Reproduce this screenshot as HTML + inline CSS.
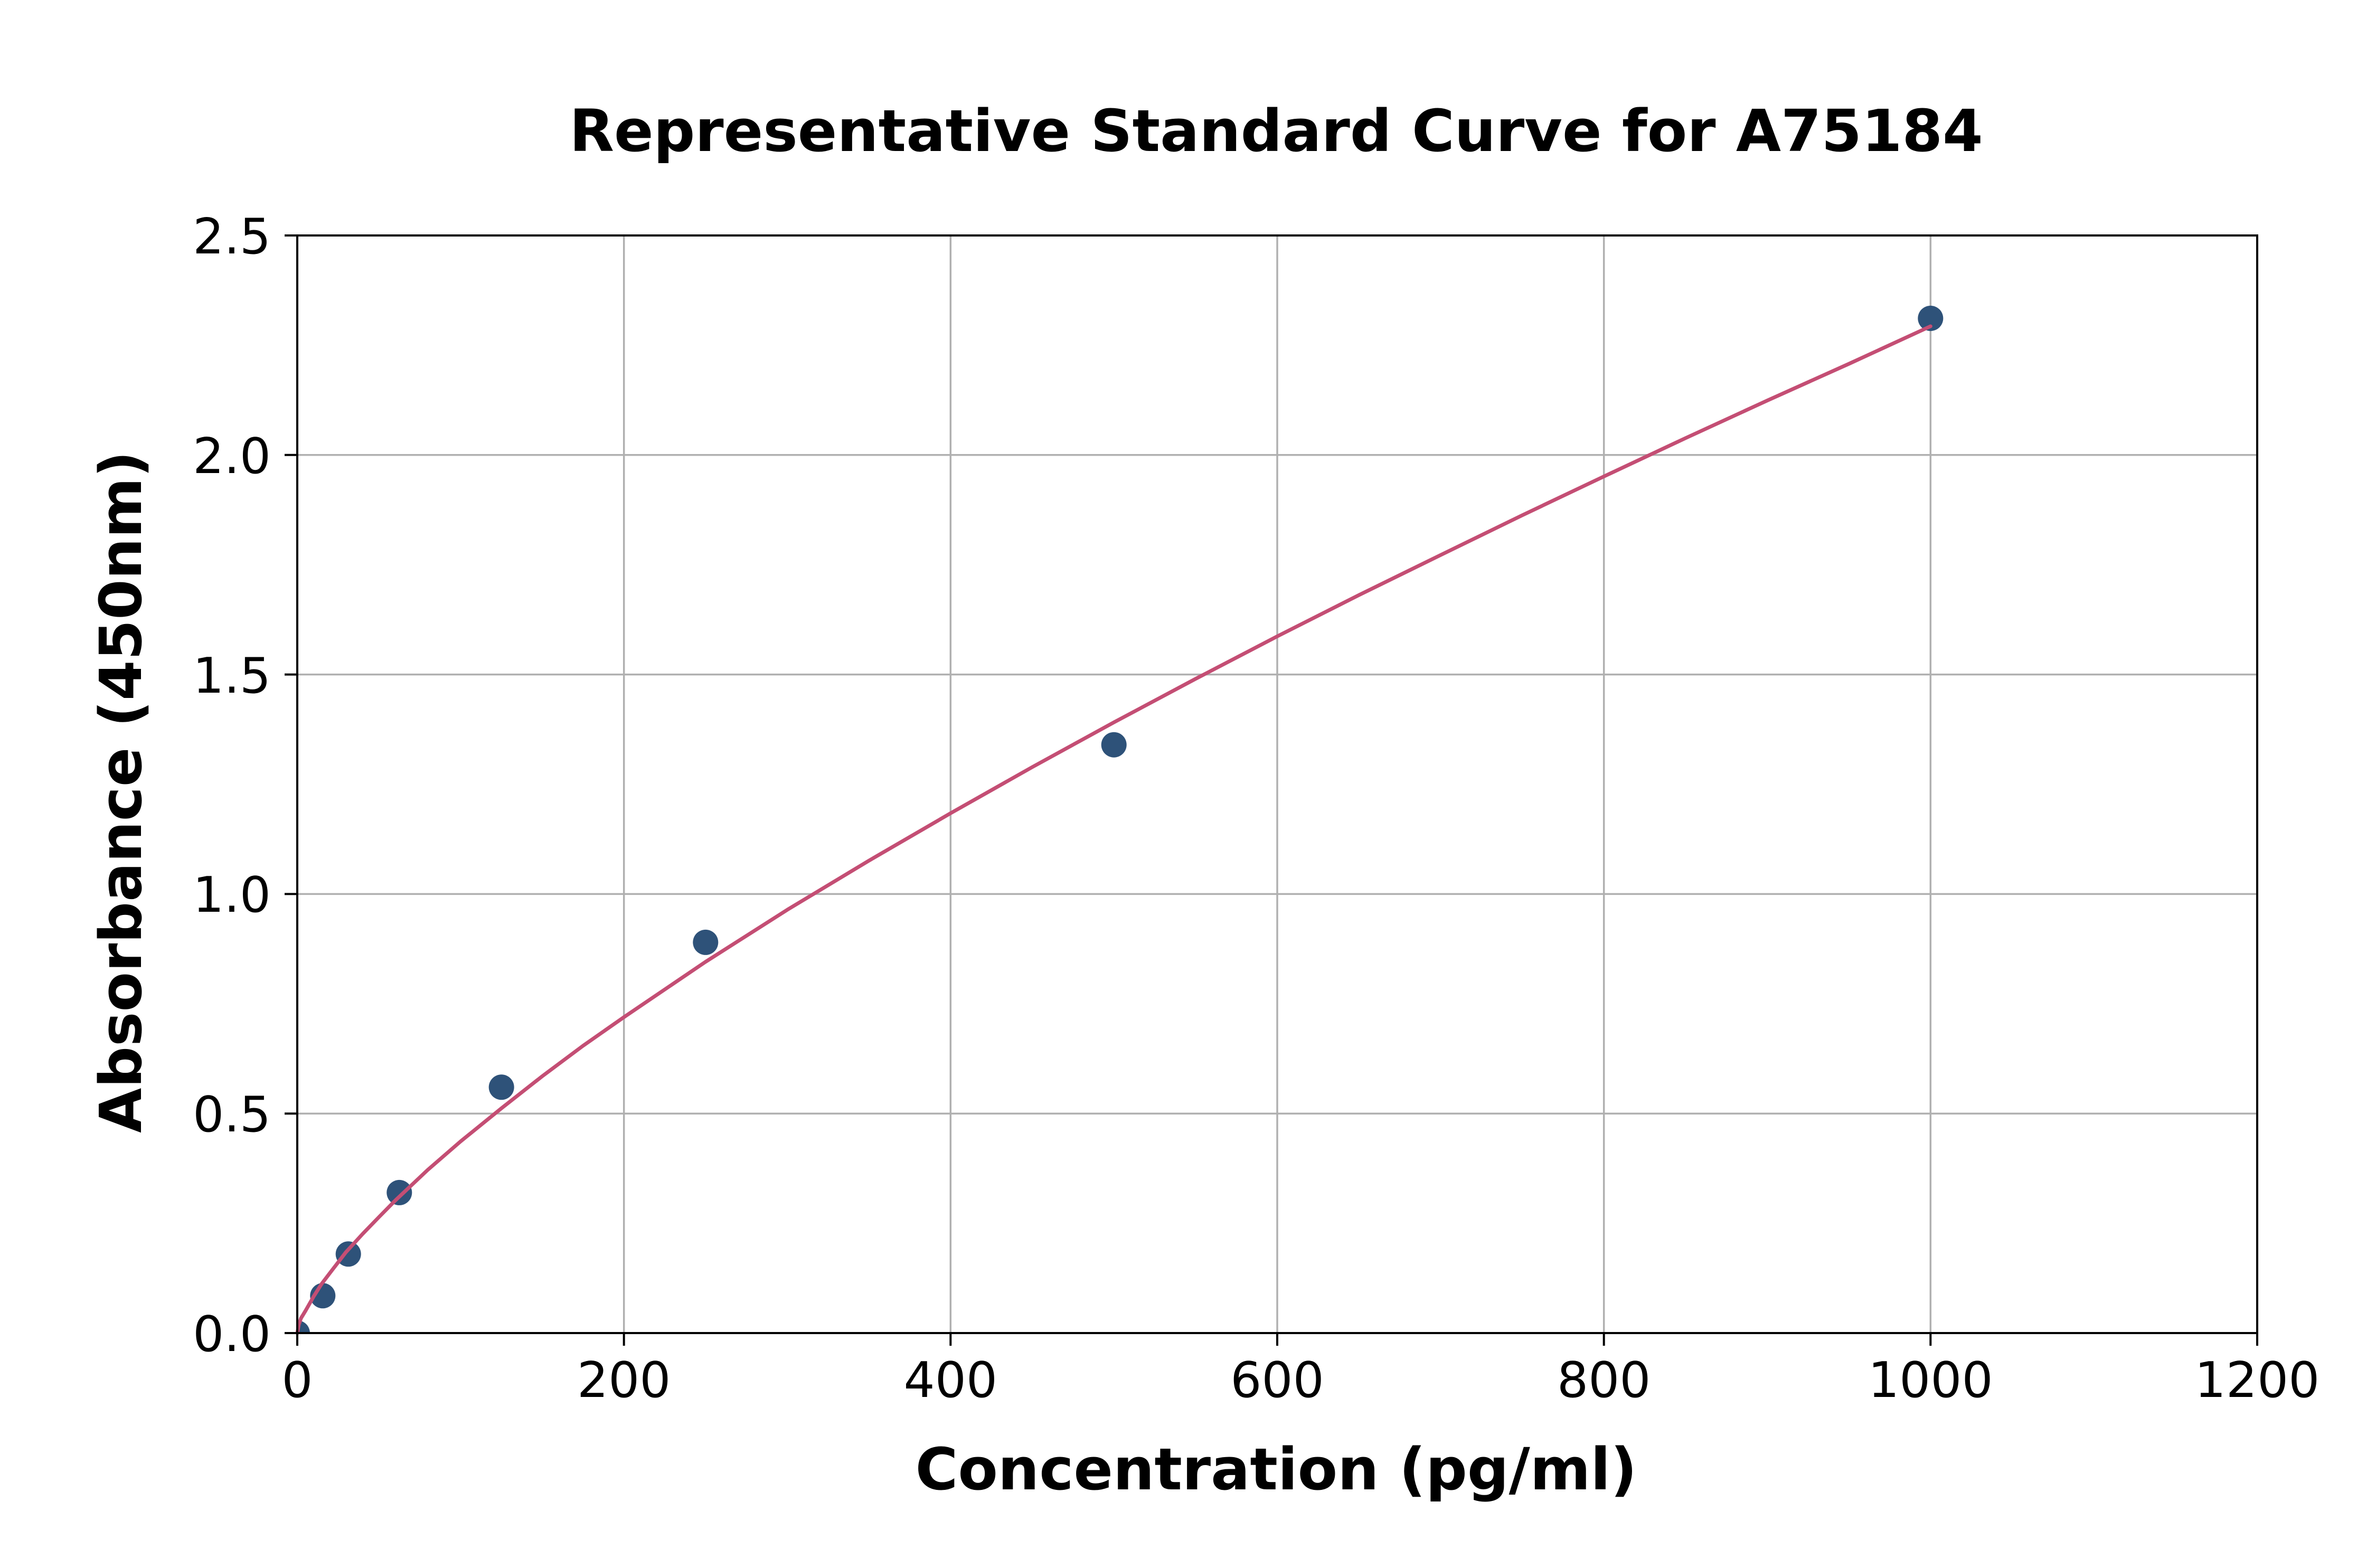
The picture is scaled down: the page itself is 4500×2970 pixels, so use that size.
<!DOCTYPE html>
<html><head><meta charset="utf-8"><style>html,body{margin:0;padding:0;background:#fff}svg{display:block}</style></head>
<body>
<svg width="4500" height="2970" viewBox="0 0 4500 2970" xmlns="http://www.w3.org/2000/svg" font-family="'DejaVu Sans','Liberation Sans',sans-serif">
<defs><clipPath id="ax"><rect x="563" y="446" width="3712" height="2079"/></clipPath></defs>
<rect width="4500" height="2970" fill="#fff"/>
<g stroke="#b0b0b0" stroke-width="3.5">
<line x1="1181.7" y1="446" x2="1181.7" y2="2525"/>
<line x1="1800.3" y1="446" x2="1800.3" y2="2525"/>
<line x1="2419" y1="446" x2="2419" y2="2525"/>
<line x1="3037.7" y1="446" x2="3037.7" y2="2525"/>
<line x1="3656.3" y1="446" x2="3656.3" y2="2525"/>
<line x1="563" y1="2109.2" x2="4275" y2="2109.2"/>
<line x1="563" y1="1693.4" x2="4275" y2="1693.4"/>
<line x1="563" y1="1277.6" x2="4275" y2="1277.6"/>
<line x1="563" y1="861.8" x2="4275" y2="861.8"/>
</g>
<g fill="#2e5279" clip-path="url(#ax)">
<circle cx="563" cy="2525" r="24"/>
<circle cx="611.3" cy="2454.3" r="24"/>
<circle cx="659.7" cy="2375.3" r="24"/>
<circle cx="756.3" cy="2258.9" r="24"/>
<circle cx="949.7" cy="2059.3" r="24"/>
<circle cx="1336.3" cy="1784.9" r="24"/>
<circle cx="2109.7" cy="1410.7" r="24"/>
<circle cx="3656.3" cy="603" r="24"/>
</g>
<polyline fill="none" stroke="#c44e74" stroke-width="7" stroke-linejoin="round" stroke-linecap="round" points="563,2525 566,2509 570,2497 578.5,2483 594,2455.8 609,2432 624.9,2411.1 655,2372 686.7,2337.3 718,2305 748.6,2273.9 810,2216 872.3,2162 950,2099 1027,2038.5 1104,1981 1181.7,1926.6 1336,1822 1491,1723.3 1646,1630 1800.3,1540.4 1955,1453 2109.7,1368.2 2264,1286 2419,1205.3 2574,1127 2728.3,1051.4 2883,976 3037.6,902.5 3192,830 3347,758.7 3502,689 3656.3,618"/>
<rect x="563" y="446" width="3712" height="2079" fill="none" stroke="#000" stroke-width="4"/>
<g stroke="#000" stroke-width="4">
<line x1="563" y1="2525" x2="563" y2="2549"/>
<line x1="1181.7" y1="2525" x2="1181.7" y2="2549"/>
<line x1="1800.3" y1="2525" x2="1800.3" y2="2549"/>
<line x1="2419" y1="2525" x2="2419" y2="2549"/>
<line x1="3037.7" y1="2525" x2="3037.7" y2="2549"/>
<line x1="3656.3" y1="2525" x2="3656.3" y2="2549"/>
<line x1="4275" y1="2525" x2="4275" y2="2549"/>
<line x1="539" y1="2525" x2="563" y2="2525"/>
<line x1="539" y1="2109.2" x2="563" y2="2109.2"/>
<line x1="539" y1="1693.4" x2="563" y2="1693.4"/>
<line x1="539" y1="1277.6" x2="563" y2="1277.6"/>
<line x1="539" y1="861.8" x2="563" y2="861.8"/>
<line x1="539" y1="446" x2="563" y2="446"/>
</g>
<g font-size="93" text-anchor="middle" fill="#000">
<text x="563" y="2646">0</text>
<text x="1181.7" y="2646">200</text>
<text x="1800.3" y="2646">400</text>
<text x="2419" y="2646">600</text>
<text x="3037.7" y="2646">800</text>
<text x="3656.3" y="2646">1000</text>
<text x="4275" y="2646">1200</text>
</g>
<g font-size="93" text-anchor="end" fill="#000">
<text x="513" y="2559">0.0</text>
<text x="513" y="2143">0.5</text>
<text x="513" y="1727">1.0</text>
<text x="513" y="1312">1.5</text>
<text x="513" y="896">2.0</text>
<text x="513" y="480">2.5</text>
</g>
<text x="2417" y="286" font-size="110" font-weight="bold" text-anchor="middle">Representative Standard Curve for A75184</text>
<text x="2417" y="2821" font-size="110" font-weight="bold" text-anchor="middle">Concentration (pg/ml)</text>
<text transform="translate(267,1500) rotate(-90)" x="0" y="0" font-size="110" font-weight="bold" text-anchor="middle">Absorbance (450nm)</text>
</svg>
</body></html>
